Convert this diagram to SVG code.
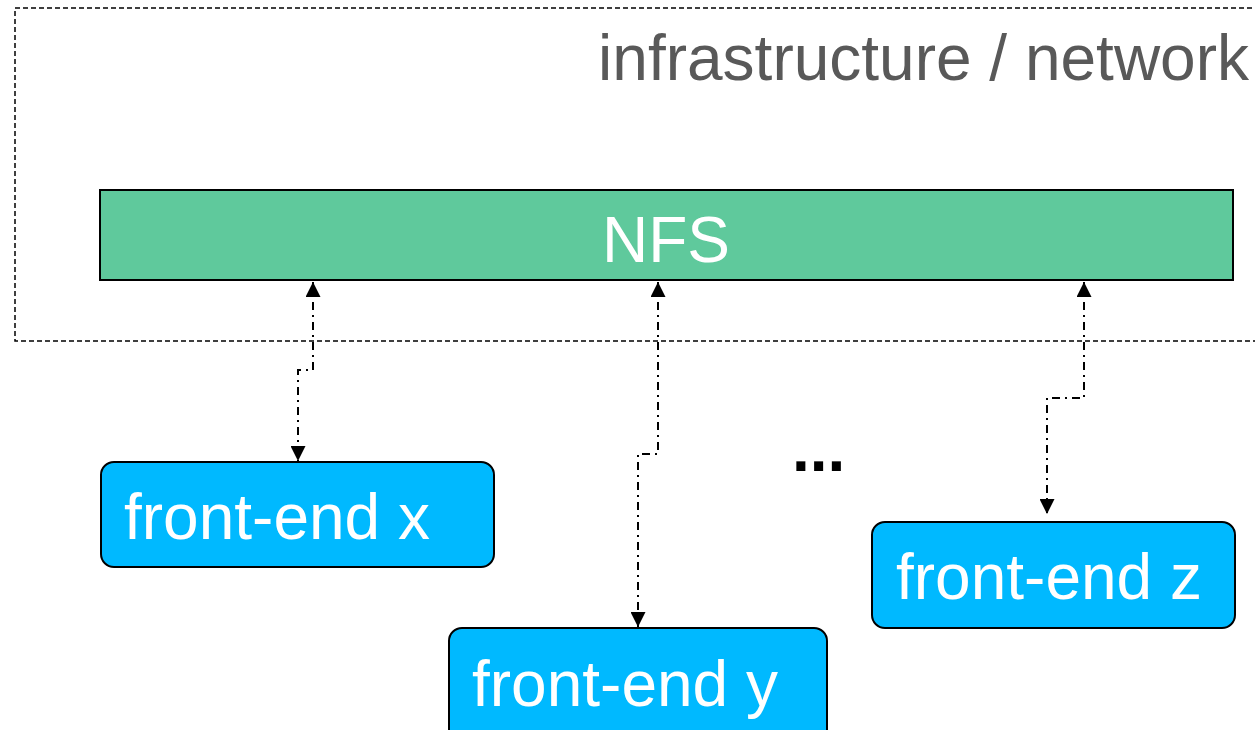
<svg xmlns="http://www.w3.org/2000/svg" width="1255" height="730" viewBox="0 0 1255 730">
  <defs>
    <marker id="arrow" viewBox="0 0 10 10" refX="10" refY="5" markerWidth="7.5" markerHeight="7.5" orient="auto-start-reverse" markerUnits="strokeWidth">
      <path d="M0,0 L10,5 L0,10 Z" fill="#000"/>
    </marker>
    <style>
      .label { font-family: "Liberation Sans", Arial, sans-serif; fill: #fff; font-size: 64px; }
      .frontend rect { fill: #00B9FF; stroke: #000; stroke-width: 2; }
      .link { fill: none; stroke: #000; stroke-width: 2; stroke-dasharray: 8 5 2 5; marker-start: url(#arrow); marker-end: url(#arrow); }
    </style>
  </defs>
  <rect width="1255" height="730" fill="#fff"/>

  <!-- infrastructure boundary -->
  <g id="infrastructure">
    <path d="M1260,8 H15 V341 H1260" fill="none" stroke="#000" stroke-width="1.5" stroke-dasharray="5 3"/>
    <text x="1249" y="80" text-anchor="end" font-family="'Liberation Sans', Arial, sans-serif" font-size="64" fill="#595959">infrastructure / network</text>
  </g>

  <g id="nfs">
    <rect x="100" y="190" width="1133" height="90" fill="#5FC99C" stroke="#000" stroke-width="2"/>
    <text class="label" x="666" y="262" text-anchor="middle">NFS</text>
  </g>

  <g id="frontend-x" class="frontend">
    <rect x="101" y="462" width="393" height="105" rx="13"/>
    <text class="label" x="124" y="539">front-end x</text>
  </g>

  <g id="frontend-y" class="frontend">
    <rect x="449" y="628" width="378" height="120" rx="13"/>
    <text class="label" x="472" y="706">front-end y</text>
  </g>

  <g id="frontend-z" class="frontend">
    <rect x="872" y="522" width="363" height="106" rx="13"/>
    <text class="label" x="896" y="599">front-end z</text>
  </g>

  <g id="ellipsis">
    <text x="792" y="471" font-family="'Liberation Sans', Arial, sans-serif" font-size="64" font-weight="bold" fill="#000">...</text>
  </g>

  <!-- mount links between the NFS share and each front-end -->
  <g id="connectors">
    <path class="link" d="M313,282 V370 H298 V461"/>
    <path class="link" d="M658,282 V454 H638 V627"/>
    <path class="link" d="M1084,282 V398 H1047 V514"/>
  </g>
</svg>
